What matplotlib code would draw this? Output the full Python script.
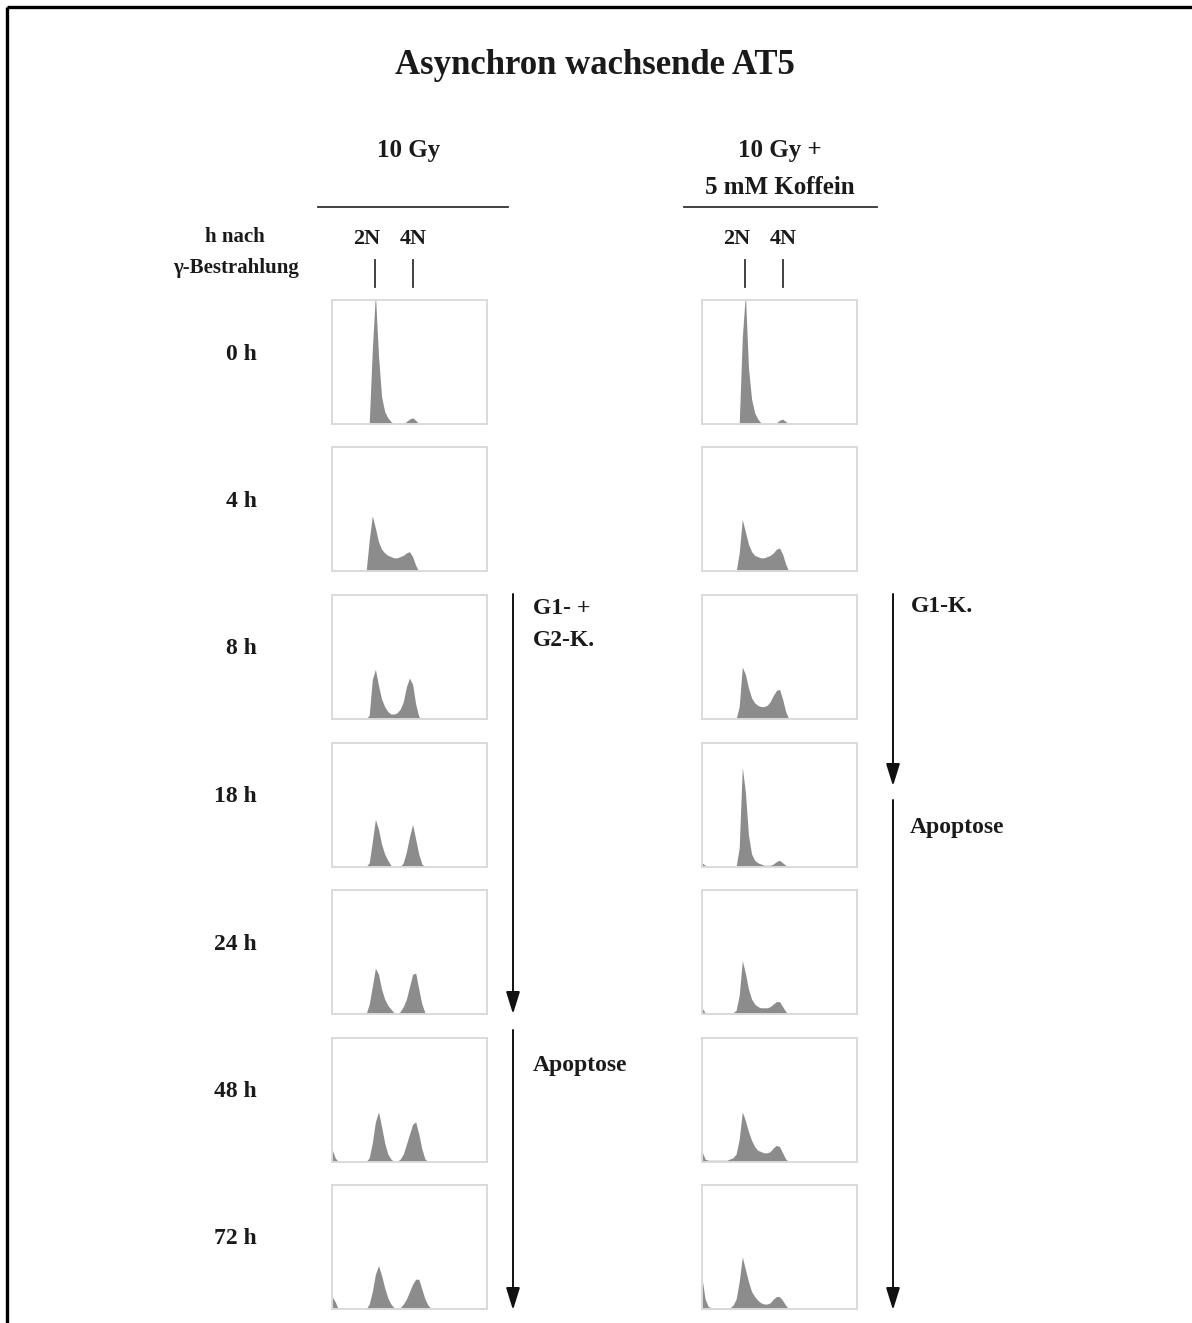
import matplotlib
matplotlib.use("Agg")
import matplotlib.pyplot as plt

plt.rcParams['font.family'] = ['Liberation Serif', 'DejaVu Serif']

# ---------------- data ----------------
title = "Asynchron wachsende AT5"
col_titles = [["10 Gy"], ["10 Gy +", "5 mM Koffein"]]
time_labels = ["0 h", "4 h", "8 h", "18 h", "24 h", "48 h", "72 h"]
row_axis_label = ["h nach", "γ-Bestrahlung"]
peak_labels = ["2N", "4N"]
peak_channels = [28, 52]

channels = [0, 2, 4, 6, 8, 10, 12, 14, 16, 18, 20, 22, 24, 26, 28, 30, 32,
            34, 36, 38, 40, 42, 44, 46, 48, 50, 52, 54, 56, 58, 60, 62, 64]

# 10 Gy
L0 = [0, 0, 0, 0, 0, 0, 0, 0, 0, 0, 0, 0, 0, 60, 105, 55, 22, 10, 5, 2, 0, 0, 0, 0, 2, 4, 5, 3, 0, 0, 0, 0, 0]
L4 = [0, 0, 0, 0, 0, 0, 0, 0, 0, 0, 0, 0, 25, 45, 35, 24, 18, 15, 13, 12, 11, 11, 12, 13, 15, 16, 12, 5, 0, 0, 0, 0, 0]
L8 = [0, 0, 0, 0, 0, 0, 0, 0, 0, 0, 0, 0, 3, 32, 40, 27, 16, 10, 6, 4, 4, 5, 8, 14, 26, 33, 28, 12, 2, 0, 0, 0, 0]
L18 = [0, 0, 0, 0, 0, 0, 0, 0, 0, 0, 0, 0, 3, 20, 38, 30, 18, 10, 5, 1, 0, 0, 0, 3, 12, 24, 34, 22, 10, 2, 0, 0, 0]
L24 = [0, 0, 0, 0, 0, 0, 0, 0, 0, 0, 0, 0, 8, 22, 37, 32, 20, 12, 7, 4, 1, 0, 2, 6, 12, 22, 32, 33, 20, 8, 1, 0, 0]
L48 = [10, 3, 0, 0, 0, 0, 0, 0, 0, 0, 0, 0, 3, 15, 32, 40, 28, 15, 6, 2, 0, 0, 2, 6, 14, 22, 30, 32, 22, 10, 2, 0, 0]
L72 = [10, 6, 0, 0, 0, 0, 0, 0, 0, 0, 0, 0, 4, 14, 28, 35, 27, 17, 9, 4, 1, 0, 1, 4, 8, 14, 20, 24, 24, 16, 8, 3, 0]

# 10 Gy + 5 mM Koffein
R0 = [0, 0, 0, 0, 0, 0, 0, 0, 0, 0, 0, 0, 0, 70, 105, 45, 20, 9, 4, 1, 0, 0, 0, 0, 1, 3, 4, 2, 0, 0, 0, 0, 0]
R4 = [0, 0, 0, 0, 0, 0, 0, 0, 0, 0, 0, 0, 15, 42, 32, 22, 16, 13, 12, 11, 11, 12, 13, 15, 18, 19, 14, 6, 0, 0, 0, 0, 0]
R8 = [0, 0, 0, 0, 0, 0, 0, 0, 0, 0, 0, 0, 10, 42, 36, 25, 17, 13, 11, 10, 10, 11, 14, 19, 23, 24, 16, 6, 0, 0, 0, 0, 0]
R18 = [3, 1, 0, 0, 0, 0, 0, 0, 0, 0, 0, 0, 15, 80, 60, 25, 10, 5, 3, 2, 1, 1, 1, 2, 4, 5, 3, 1, 0, 0, 0, 0, 0]
R24 = [5, 1, 0.5, 0.5, 0.5, 0.5, 0.5, 0.5, 0.5, 0.5, 1, 3, 15, 43, 33, 20, 12, 8, 6, 5, 5, 5, 6, 8, 10, 10, 6, 2, 0, 0, 0, 0, 0]
R48 = [8, 2, 1, 1, 1, 1, 1, 1, 1, 2, 3, 6, 18, 40, 33, 24, 17, 12, 9, 8, 7, 7, 8, 11, 13, 12, 7, 2, 0, 0, 0, 0, 0]
R72 = [25, 8, 2, 1, 0.5, 0.5, 0.5, 0.5, 0.5, 1, 3, 8, 22, 42, 32, 22, 14, 10, 7, 5, 4, 4, 5, 8, 10, 10, 7, 3, 0, 0, 0, 0, 0]

left_series = [L0, L4, L8, L18, L24, L48, L72]
right_series = [R0, R4, R8, R18, R24, R48, R72]

# ---------------- layout ----------------
W, H = 1192, 1323
fig = plt.figure(figsize=(W / 100, H / 100), dpi=100)
ov = fig.add_axes([0, 0, 1, 1])
ov.set_xlim(0, W)
ov.set_ylim(H, 0)
ov.axis('off')

TXT = '#1a1a1a'

# outer frame (top and left)
ov.plot([7, W], [7, 7], color='black', lw=2.4, solid_capstyle='butt')
ov.plot([7, 7], [7, H], color='black', lw=2.4, solid_capstyle='butt')

fs = 17
ov.text(595, 66, title, ha='center', va='center', fontsize=25, fontweight='bold', color=TXT)
ov.text(409, 151, col_titles[0][0], ha='center', va='center', fontsize=18, fontweight='bold', color=TXT)
ov.text(780, 151, col_titles[1][0], ha='center', va='center', fontsize=18, fontweight='bold', color=TXT)
ov.text(780, 187, col_titles[1][1], ha='center', va='center', fontsize=18, fontweight='bold', color=TXT)
ov.plot([318, 508], [207, 207], color='#333333', lw=1.3)
ov.plot([684, 877], [207, 207], color='#333333', lw=1.3)

ov.text(235, 237, row_axis_label[0], ha='center', va='center', fontsize=15, fontweight='bold', color=TXT)
ov.text(236, 268, row_axis_label[1], ha='center', va='center', fontsize=15, fontweight='bold', color=TXT)

col_x0 = [332, 702]
panel_w, panel_h = 155, 124
row_top0, row_step = 300, 147.5

for c, x0 in enumerate(col_x0):
    for k, (lab, ch) in enumerate(zip(peak_labels, peak_channels)):
        px = x0 + ch / 100 * panel_w
        ov.plot([px, px], [260, 287], color='#333333', lw=1.3)
        ov.text(px + (-9 if k == 0 else 1), 239, lab, ha='center', va='center', fontsize=16,
                fontweight='bold', color=TXT)

for i, lab in enumerate(time_labels):
    yc = row_top0 + i * row_step + 54
    ov.text(257, yc, lab, ha='right', va='center', fontsize=fs, fontweight='bold', color=TXT)

# arrows
def arrow(x, y0, y1):
    ov.annotate('', xy=(x, y1), xytext=(x, y0),
                arrowprops=dict(arrowstyle='-|>,head_length=0.9,head_width=0.28', lw=1.4,
                                color='#111111', shrinkA=0, shrinkB=0, mutation_scale=15))

arrow(513, 594, 1014)
arrow(513, 1030, 1310)
arrow(893, 594, 786)
arrow(893, 800, 1310)

ov.text(533, 608, "G1- +", ha='left', va='center', fontsize=fs, fontweight='bold', color=TXT)
ov.text(533, 641, "G2-K.", ha='left', va='center', fontsize=fs, fontweight='bold', color=TXT)
ov.text(533, 1065, "Apoptose", ha='left', va='center', fontsize=fs, fontweight='bold', color=TXT)
ov.text(911, 607, "G1-K.", ha='left', va='center', fontsize=fs, fontweight='bold', color=TXT)
ov.text(910, 828, "Apoptose", ha='left', va='center', fontsize=fs, fontweight='bold', color=TXT)

# histograms
for c, (x0, series) in enumerate(zip(col_x0, [left_series, right_series])):
    for i, counts in enumerate(series):
        top = row_top0 + i * row_step
        ax = fig.add_axes([x0 / W, 1 - (top + panel_h) / H, panel_w / W, panel_h / H])
        ax.fill_between(channels, 0, counts, color='#8c8c8c', lw=0, zorder=1)
        ax.set_xlim(0, 100)
        ax.set_ylim(0, 100)
        ax.set_xticks([])
        ax.set_yticks([])
        for sp in ax.spines.values():
            sp.set_color('#dadada')
            sp.set_linewidth(1.4)
        ax.patch.set_alpha(0)

fig.savefig('out.png', dpi=100)
